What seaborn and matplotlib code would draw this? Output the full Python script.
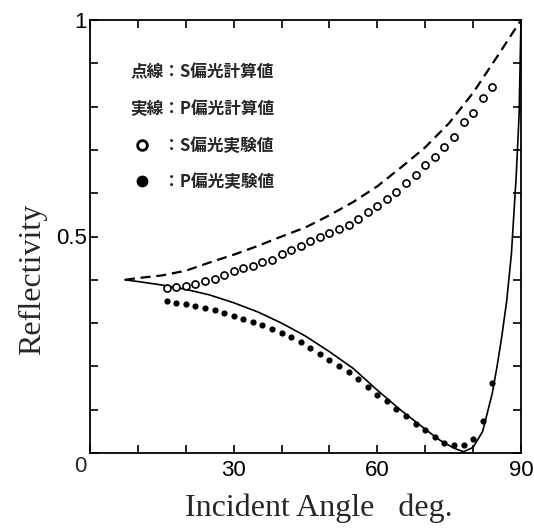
import numpy as np
import pandas as pd
import matplotlib
matplotlib.use('Agg')
import matplotlib.pyplot as plt
from matplotlib.lines import Line2D
import seaborn as sns

# ==========================================
# DATA
# ==========================================
# S-polarisation, calculated (dashed line)
s_calc_angle = [7.3, 10, 15, 20, 25, 30, 35, 40, 45, 50, 55, 60, 65, 70, 75, 80, 85, 90]
s_calc_refl = [0.400, 0.404, 0.410, 0.421, 0.440, 0.458, 0.478, 0.500, 0.521, 0.549,
               0.580, 0.616, 0.660, 0.706, 0.762, 0.832, 0.915, 1.000]

# P-polarisation, calculated (solid line)
p_calc_angle = [7.3, 10, 15, 20, 25, 30, 35, 40, 45, 50, 55, 60, 65, 70, 73, 76, 78,
                80, 82, 84, 85, 86, 87, 88, 89, 89.6, 90]
p_calc_refl = [0.400, 0.396, 0.388, 0.378, 0.365, 0.347, 0.326, 0.300, 0.270, 0.234,
               0.195, 0.145, 0.098, 0.055, 0.030, 0.011, 0.003, 0.013, 0.050, 0.138,
               0.200, 0.270, 0.350, 0.460, 0.640, 0.780, 1.000]

# S-polarisation, measured (open circles)
s_exp_angle = [16, 18, 20, 22, 24, 26, 28, 30, 32, 34, 36, 38, 40, 42, 44, 46, 48, 50,
               52, 54, 56, 58, 60, 62, 64, 66, 68, 70, 72, 74, 76, 78, 80, 82, 84]
s_exp_refl = [0.380, 0.383, 0.386, 0.390, 0.397, 0.401, 0.411, 0.421, 0.427, 0.433,
              0.440, 0.446, 0.460, 0.469, 0.478, 0.490, 0.500, 0.507, 0.517, 0.526,
              0.540, 0.557, 0.571, 0.587, 0.602, 0.623, 0.642, 0.665, 0.684, 0.707,
              0.730, 0.764, 0.786, 0.821, 0.845]

# P-polarisation, measured (filled dots)
p_exp_angle = [16, 18, 20, 22, 24, 26, 28, 30, 32, 34, 36, 38, 40, 42, 44, 46, 48, 50,
               52, 54, 56, 58, 60, 62, 64, 66, 68, 70, 72, 74, 76, 78, 80, 82, 84]
p_exp_refl = [0.352, 0.346, 0.344, 0.340, 0.336, 0.330, 0.323, 0.316, 0.310, 0.303,
              0.296, 0.287, 0.278, 0.268, 0.256, 0.242, 0.228, 0.214, 0.202, 0.186,
              0.170, 0.153, 0.134, 0.120, 0.102, 0.085, 0.067, 0.052, 0.036, 0.024,
              0.018, 0.018, 0.032, 0.074, 0.161]

legend_labels = ['点線：S偏光計算値', '実線：P偏光計算値', '　　：S偏光実験値', '　　：P偏光実験値']

x_ticks = [0, 10, 20, 30, 40, 50, 60, 70, 80, 90]
x_tick_labels = ['', '', '', '30', '', '', '60', '', '', '90']
y_ticks = [0, 0.1, 0.2, 0.3, 0.4, 0.5, 0.6, 0.7, 0.8, 0.9, 1.0]
y_tick_labels = ['', '', '', '', '', '0.5', '', '', '', '', '1']

# ==========================================
# STYLE
# ==========================================
sns.set_style('ticks', {'xtick.direction': 'in', 'ytick.direction': 'in'})
plt.rcParams['font.family'] = ['Liberation Sans', 'DejaVu Sans']

fig = plt.figure(figsize=(5.34, 5.28), dpi=100)
ax = fig.add_axes([90 / 534, 75 / 528, 431 / 534, 433 / 528])

# --- curves ---
sns.lineplot(x=s_calc_angle, y=s_calc_refl, color='black', linewidth=1.6,
             linestyle=(0, (4.5, 2.6)), estimator=None, ax=ax)
sns.lineplot(x=p_calc_angle, y=p_calc_refl, color='black', linewidth=1.2,
             estimator=None, ax=ax)

# --- measured points ---
sns.scatterplot(x=s_exp_angle, y=s_exp_refl, marker='o', s=26, color='white',
                edgecolor='black', linewidth=1.2, zorder=3, ax=ax)
sns.scatterplot(x=p_exp_angle, y=p_exp_refl, marker='o', s=20, color='black',
                edgecolor='black', linewidth=0, zorder=3, ax=ax)

# --- axes ---
ax.set_xlim(0, 90)
ax.set_ylim(0, 1)
ax.set_xticks(x_ticks)
ax.set_xticklabels(x_tick_labels)
ax.set_yticks(y_ticks)
ax.set_yticklabels(y_tick_labels)
ax.tick_params(axis='both', which='both', direction='in', length=6, width=1.2,
               labelsize=16, colors='black', top=True, right=True)
ax.tick_params(axis='x', pad=5)
ax.tick_params(axis='y', pad=2)
for sp in ax.spines.values():
    sp.set_visible(True)
    sp.set_linewidth(1.3)
    sp.set_color('black')

# shared "0" label at the corner
ax.annotate('0', xy=(0, 0), xycoords='axes fraction', xytext=(-10, -14),
            textcoords='offset pixels', ha='center', va='center', fontsize=16)

ax.set_xlabel('Incident Angle   deg.', fontfamily='Liberation Serif', fontsize=23)
ax.set_ylabel('Reflectivity', fontfamily='Liberation Serif', fontsize=23)
ax.xaxis.set_label_coords(0.53, -0.093)
ax.yaxis.set_label_coords(-0.1, 0.4)

# --- legend ---
handles = [
    Line2D([], [], linestyle='none', marker='none'),
    Line2D([], [], linestyle='none', marker='none'),
    Line2D([], [], linestyle='none', marker='o', markersize=7, markerfacecolor='white',
           markeredgecolor='black', markeredgewidth=2),
    Line2D([], [], linestyle='none', marker='o', markersize=7.5, markerfacecolor='black',
           markeredgecolor='black'),
]
ax.legend(handles, legend_labels, loc='upper left', bbox_to_anchor=(0.121, 0.9),
          frameon=False, handlelength=0, handletextpad=-0.72, labelspacing=1.12,
          borderpad=0, borderaxespad=0,
          prop={'family': ['Noto Sans CJK JP', 'DejaVu Sans'], 'weight': 'bold', 'size': 12})

fig.savefig('out.png', dpi=100)
